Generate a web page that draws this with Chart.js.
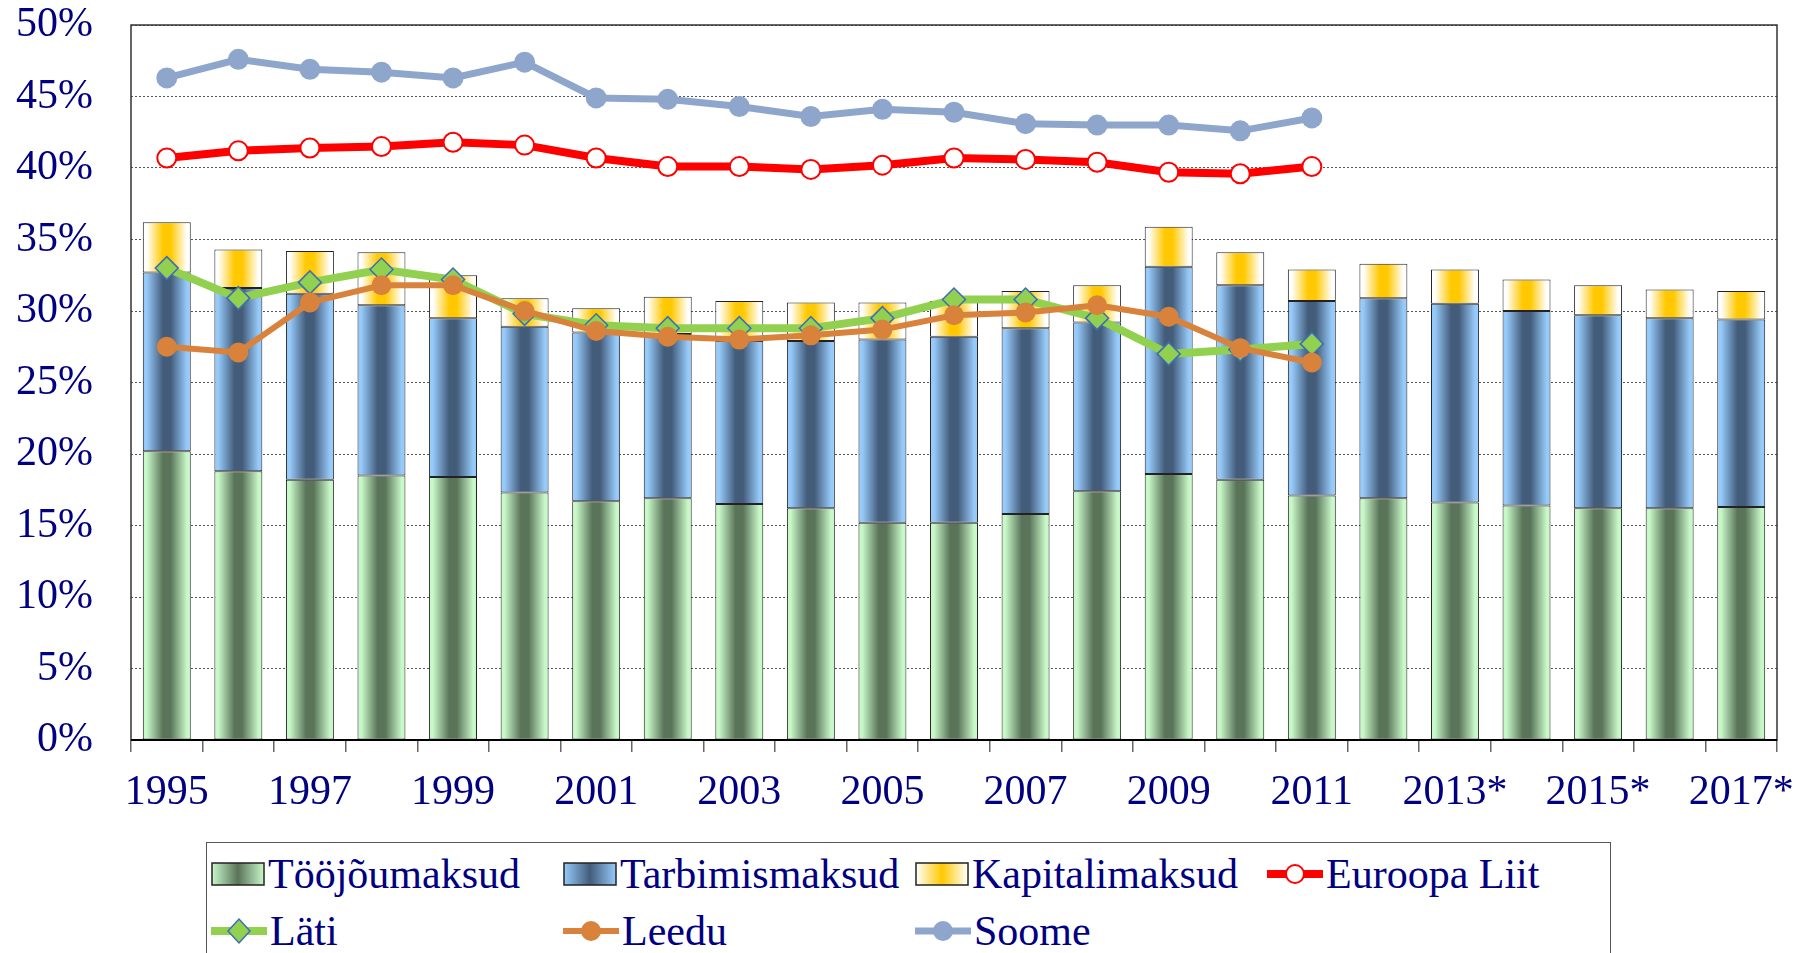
<!DOCTYPE html>
<html>
<head>
<meta charset="utf-8">
<script src="https://cdn.jsdelivr.net/npm/chart.js@4.4.0/dist/chart.umd.min.js"></script>
<style>
  body { margin: 0; background: #fff; overflow: hidden; }
  #wrap { position: relative; width: 1798px; height: 953px; }
  #legend {
    position: absolute; left: 206px; top: 842px; width: 1405px; height: 150px;
    border: 1.5px solid #555; box-sizing: border-box; background: #fff;
  }
  .item {
    position: absolute; display: flex; align-items: center; height: 50px;
    font-family: 'Liberation Serif', serif; font-size: 42px; color: #000080; white-space: nowrap;
  }
  .item svg { margin-right: 3px; }
</style>
</head>
<body>
<div id="wrap">
  <canvas id="myChart" width="1798" height="953"></canvas>
  <div id="legend"></div>
</div>
<script>
'use strict';

// years, * = prognoos
let years = ['1995', '1996', '1997', '1998', '1999', '2000', '2001', '2002', '2003', '2004', '2005',
  '2006', '2007', '2008', '2009', '2010', '2011', '2012*', '2013*', '2014*', '2015*', '2016*', '2017*'];

// stacked bars (% of GDP)
let toojou = [20.2, 18.8, 18.2, 18.5, 18.4, 17.3, 16.7, 16.9, 16.5, 16.2, 15.2, 15.2, 15.8, 17.4, 18.6, 18.2, 17.1, 16.9, 16.6, 16.4, 16.2, 16.2, 16.3];
let tarbimis = [12.5, 12.8, 13.0, 11.9, 11.1, 11.6, 11.8, 11.5, 11.4, 11.7, 12.8, 13.0, 13.0, 11.8, 14.5, 13.6, 13.6, 14.0, 13.9, 13.6, 13.5, 13.3, 13.1];
let kapital = [3.5, 2.7, 3.0, 3.7, 3.0, 2.0, 1.7, 2.6, 2.8, 2.7, 2.6, 2.5, 2.6, 2.6, 2.8, 2.3, 2.2, 2.4, 2.4, 2.2, 2.1, 2.0, 2.0];

// lines, 1995-2011
let euroopa = [40.7, 41.2, 41.4, 41.5, 41.8, 41.6, 40.7, 40.1, 40.1, 39.9, 40.2, 40.7, 40.6, 40.4, 39.7, 39.6, 40.1];
let lati = [33.0, 30.9, 32.0, 32.9, 32.2, 29.8, 29.0, 28.8, 28.8, 28.8, 29.5, 30.8, 30.8, 29.5, 27.0, 27.3, 27.7];
let leedu = [27.5, 27.1, 30.6, 31.8, 31.8, 30.0, 28.6, 28.2, 28.0, 28.3, 28.7, 29.7, 29.9, 30.4, 29.6, 27.4, 26.4];
let soome = [46.3, 47.6, 46.9, 46.7, 46.3, 47.4, 44.9, 44.8, 44.3, 43.6, 44.1, 43.9, 43.1, 43.0, 43.0, 42.6, 43.5];

let yTicks = [0, 5, 10, 15, 20, 25, 30, 35, 40, 45, 50];

let navy = '#000080';
let barPct = 0.67;

let greenStops = ['#c8f8c8', '#5a745a', '#c8f8c8'];
let blueStops = ['#96cafa', '#435c7a', '#96cafa'];
let yellowStops = ['#ffffff', '#ffc800', '#ffffff'];

// horizontal gradient across each bar
function barGradient(stops) {
  return function (context) {
    let chart = context.chart;
    if (!chart.chartArea || context.type !== 'data') return stops[1];
    let xs = chart.scales.x;
    let cx = xs.getPixelForValue(context.dataIndex);
    let w = xs.width / years.length * barPct;
    let g = chart.ctx.createLinearGradient(cx - w / 2, 0, cx + w / 2, 0);
    g.addColorStop(0, stops[0]);
    g.addColorStop(0.08, stops[0]);
    g.addColorStop(0.42, stops[1]);
    g.addColorStop(0.58, stops[1]);
    g.addColorStop(0.92, stops[2]);
    g.addColorStop(1, stops[2]);
    return g;
  };
}

// frame round the plot area
let frame = {
  id: 'frame',
  afterDraw(chart) {
    let a = chart.chartArea;
    let c = chart.ctx;
    c.save();
    c.strokeStyle = '#333';
    c.lineWidth = 1.5;
    c.strokeRect(a.left, a.top, a.right - a.left, a.bottom - a.top);
    c.beginPath();
    c.strokeStyle = '#000';
    c.lineWidth = 2;
    c.moveTo(a.left, a.bottom);
    c.lineTo(a.right, a.bottom);
    c.stroke();
    c.restore();
  }
};

function barSet(label, data, stops) {
  return {
    type: 'bar', label: label, data: data, order: 10, stack: 'maksud',
    backgroundColor: barGradient(stops), borderColor: '#222', borderWidth: 1,
    borderSkipped: false, barPercentage: barPct, categoryPercentage: 1
  };
}

let ctx = document.getElementById('myChart').getContext('2d');

let myChart = new Chart(ctx, {
  data: {
    labels: years,
    datasets: [
      barSet('Tööjõumaksud', toojou, greenStops),
      barSet('Tarbimismaksud', tarbimis, blueStops),
      barSet('Kapitalimaksud', kapital, yellowStops),
      {
        type: 'line', label: 'Euroopa Liit', data: euroopa, order: 3, stack: 'eu',
        borderColor: '#ff0000', borderWidth: 8, tension: 0,
        pointRadius: 9.5, pointBackgroundColor: '#ffffff', pointBorderColor: '#ff0000', pointBorderWidth: 2
      },
      {
        type: 'line', label: 'Läti', data: lati, order: 2, stack: 'lv',
        borderColor: '#92d050', borderWidth: 8, tension: 0,
        pointStyle: 'rectRot', pointRadius: 11.5, pointBackgroundColor: '#92d050',
        pointBorderColor: '#3e6db5', pointBorderWidth: 1.5
      },
      {
        type: 'line', label: 'Leedu', data: leedu, order: 1, stack: 'lt',
        borderColor: '#d9823b', borderWidth: 6, tension: 0,
        pointRadius: 10, pointBackgroundColor: '#d9823b', pointBorderColor: '#d9823b', pointBorderWidth: 0
      },
      {
        type: 'line', label: 'Soome', data: soome, order: 0, stack: 'fi',
        borderColor: '#8ea6cc', borderWidth: 7, tension: 0,
        pointRadius: 10.5, pointBackgroundColor: '#8ea6cc', pointBorderColor: '#8ea6cc', pointBorderWidth: 0
      }
    ]
  },
  options: {
    responsive: false,
    animation: false,
    devicePixelRatio: 1,
    layout: { padding: { top: 25, right: 21, bottom: 113, left: 0 } },
    plugins: { legend: { display: false }, tooltip: { enabled: false } },
    scales: {
      x: {
        stacked: true,
        offset: true,
        grid: { display: true, drawOnChartArea: false, drawTicks: true, tickLength: 12, color: '#666', lineWidth: 1.5, offset: true },
        border: { display: false },
        ticks: {
          autoSkip: false, maxRotation: 0, padding: 16, color: navy,
          font: { family: 'Liberation Serif', size: 42 },
          callback: function (v, i) { return i % 2 === 0 ? years[i] : ''; }
        },
        // fixed size, labels may stick out at the ends
        afterFit: function (s) { s.height = 100; s.paddingLeft = 0; s.paddingRight = 0; }
      },
      y: {
        stacked: true,
        min: 0, max: 50,
        afterBuildTicks: function (s) { s.ticks = yTicks.map(function (v) { return { value: v }; }); },
        grid: { color: '#555', lineWidth: 1, drawTicks: false },
        border: { display: false, dash: [2, 2] },
        ticks: {
          padding: 38, color: navy,
          font: { family: 'Liberation Serif', size: 42 },
          callback: function (v) { return v + '%'; }
        },
        afterFit: function (s) { s.width = 131; s.paddingTop = 0; s.paddingBottom = 0; }
      }
    }
  },
  plugins: [frame]
});

// legend, drawn as html in fixed columns like the original
let legendItems = [
  { label: 'Tööjõumaksud', kind: 'bar', stops: greenStops, col: 0, row: 0 },
  { label: 'Tarbimismaksud', kind: 'bar', stops: blueStops, col: 1, row: 0 },
  { label: 'Kapitalimaksud', kind: 'bar', stops: yellowStops, col: 2, row: 0 },
  { label: 'Euroopa Liit', kind: 'circle', color: '#ff0000', fill: '#ffffff', lw: 8, col: 3, row: 0 },
  { label: 'Läti', kind: 'diamond', color: '#92d050', fill: '#92d050', lw: 8, col: 0, row: 1 },
  { label: 'Leedu', kind: 'circle', color: '#d9823b', fill: '#d9823b', lw: 6, col: 1, row: 1 },
  { label: 'Soome', kind: 'circle', color: '#8ea6cc', fill: '#8ea6cc', lw: 7, col: 2, row: 1 }
];

function swatch(it, n) {
  if (it.kind === 'bar') {
    return '<svg width="54" height="24"><defs><linearGradient id="g' + n + '" x1="0" x2="1" y1="0" y2="0">' +
      '<stop offset="0" stop-color="' + it.stops[0] + '"/><stop offset="0.5" stop-color="' + it.stops[1] + '"/>' +
      '<stop offset="1" stop-color="' + it.stops[2] + '"/></linearGradient></defs>' +
      '<rect x="1" y="1" width="52" height="22" fill="url(#g' + n + ')" stroke="#222" stroke-width="1.5"/></svg>';
  }
  let mark;
  if (it.kind === 'diamond') {
    mark = '<polygon points="17,25 28,13 39,25 28,37" fill="' + it.fill + '" stroke="#3e6db5" stroke-width="1.5"/>';
  } else {
    mark = '<circle cx="28" cy="25" r="9" fill="' + it.fill + '" stroke="' + it.color + '" stroke-width="2"/>';
  }
  return '<svg width="56" height="50"><line x1="0" y1="25" x2="56" y2="25" stroke="' + it.color +
    '" stroke-width="' + it.lw + '"/>' + mark + '</svg>';
}

let legend = document.getElementById('legend');
for (let i = 0; i < legendItems.length; i++) {
  let it = legendItems[i];
  let div = document.createElement('div');
  div.className = 'item';
  div.style.left = (4 + it.col * 352) + 'px';
  div.style.top = (6 + it.row * 57) + 'px';
  div.innerHTML = swatch(it, i) + '<span>' + it.label + '</span>';
  legend.appendChild(div);
}
</script>
</body>
</html>
